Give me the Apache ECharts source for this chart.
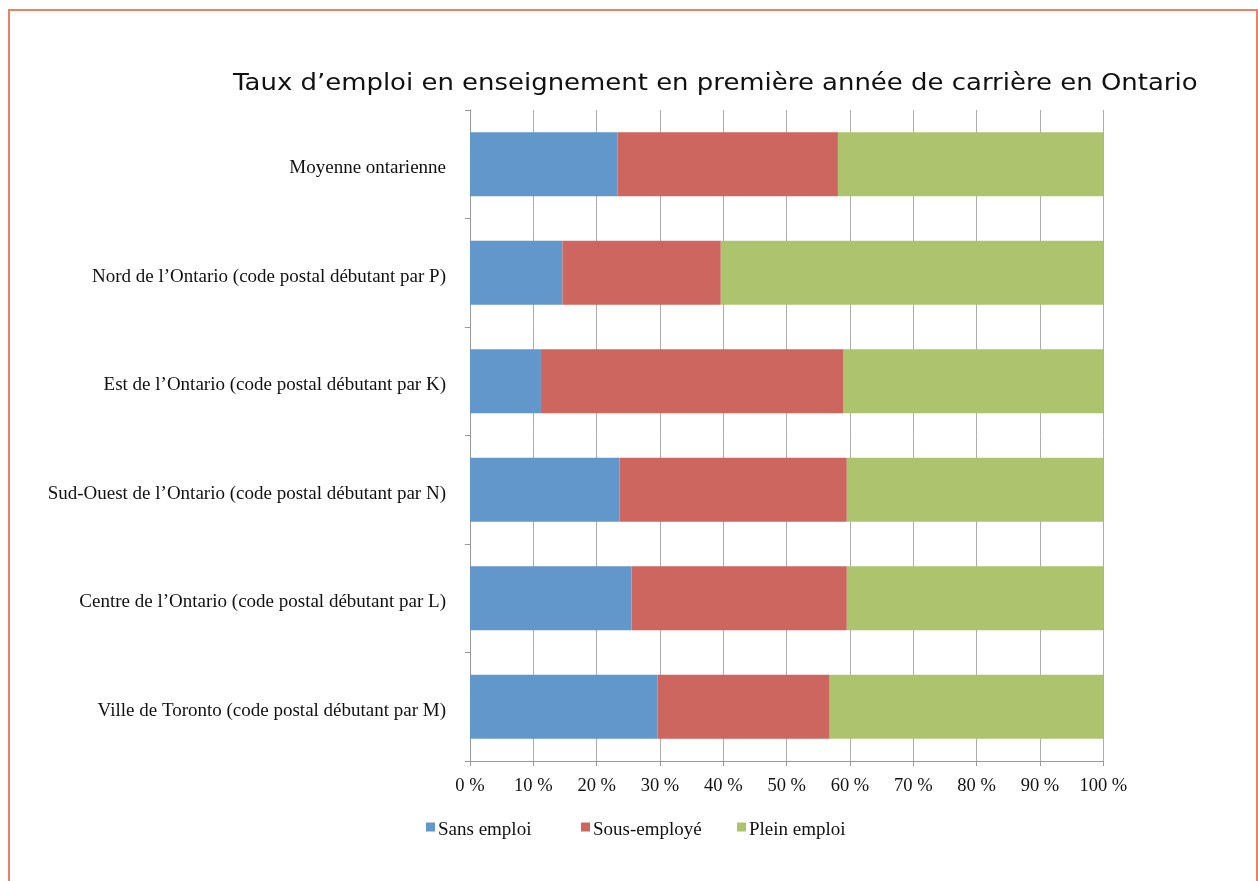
<!DOCTYPE html>
<html>
<head>
<meta charset="utf-8">
<script src="https://cdn.jsdelivr.net/npm/echarts@6/dist/echarts.min.js"></script>
<style>
html,body{margin:0;padding:0;background:#fff;}
#frame{position:absolute;left:8px;top:9px;width:1250px;height:900px;border:2px solid #EE7F66;border-bottom:none;box-sizing:border-box;}
#chart{position:absolute;left:0;top:0;width:1258px;height:881px;}
</style>
</head>
<body>
<div id="frame"></div>
<div id="chart"></div>
<script>
const categories = [
  "Moyenne ontarienne",
  "Nord de l’Ontario (code postal débutant par P)",
  "Est de l’Ontario (code postal débutant par K)",
  "Sud-Ouest de l’Ontario (code postal débutant par N)",
  "Centre de l’Ontario (code postal débutant par L)",
  "Ville de Toronto (code postal débutant par M)"
];
const sansEmploi = [23.3, 14.6, 11.2, 23.6, 25.5, 29.6];
const sousEmploye = [34.8, 25.0, 47.8, 35.9, 34.0, 27.2];
const pleinEmploi = [41.9, 60.4, 41.0, 40.5, 40.5, 43.2];
const seriesNames = ["Sans emploi", "Sous-employé", "Plein emploi"];
const titleText = "Taux d’emploi en enseignement en première année de carrière en Ontario";

const chart = echarts.init(document.getElementById('chart'), null, {renderer: 'canvas'});
const serif = "'Liberation Serif','Times New Roman',serif";
const colors = ['#6197CA', '#CD665F', '#ABC46D'];
const legendLefts = [426, 581, 737];
const mk = (name, data, i) => ({
  name: name, type: 'bar', stack: 'total', data: data,
  barCategoryGap: '41%',
  itemStyle: {color: colors[i]},
  emphasis: {disabled: true}
});
chart.setOption({
  animation: false,
  graphic: [{
    type: 'text', x: 233, y: 84, scaleX: 1.128, silent: true,
    style: {
      text: titleText, fill: '#111', textVerticalAlign: 'middle',
      font: "23px 'DejaVu Sans', Verdana, sans-serif"
    }
  }],
  legend: seriesNames.map((n, i) => ({
    data: [n], left: legendLefts[i], top: 821, padding: 0, icon: 'rect', itemWidth: 9, itemHeight: 9,
    selectedMode: false,
    formatter: name => '{a|' + name + '}',
    textStyle: {
      fontFamily: serif, fontSize: 19, color: '#111',
      rich: {a: {fontFamily: serif, fontSize: 19, color: '#111', padding: [7, 0, 0, -2]}}
    }
  })),
  grid: {left: 470, right: 154.7, top: 110, bottom: 120, containLabel: false},
  xAxis: {
    type: 'value', min: 0, max: 100, interval: 10,
    axisLine: {show: true, lineStyle: {color: '#999'}},
    axisTick: {show: true, length: 5, lineStyle: {color: '#999'}},
    axisLabel: {formatter: '{value} %', fontFamily: serif, fontSize: 18.5, color: '#111', margin: 16},
    splitLine: {show: true, lineStyle: {color: '#ACACAC', width: 1}}
  },
  yAxis: {
    type: 'category', data: categories, inverse: true,
    axisLine: {show: true, lineStyle: {color: '#999'}},
    axisTick: {show: true, length: 5, lineStyle: {color: '#999'}},
    axisLabel: {
      fontFamily: serif, fontSize: 19, color: '#111', margin: 24,
      formatter: v => '{a|' + v + '}',
      rich: {a: {fontFamily: serif, fontSize: 19, color: '#111', padding: [8, 0, 0, 0]}}
    }
  },
  series: [mk(seriesNames[0], sansEmploi, 0), mk(seriesNames[1], sousEmploye, 1), mk(seriesNames[2], pleinEmploi, 2)]
});
</script>
</body>
</html>
